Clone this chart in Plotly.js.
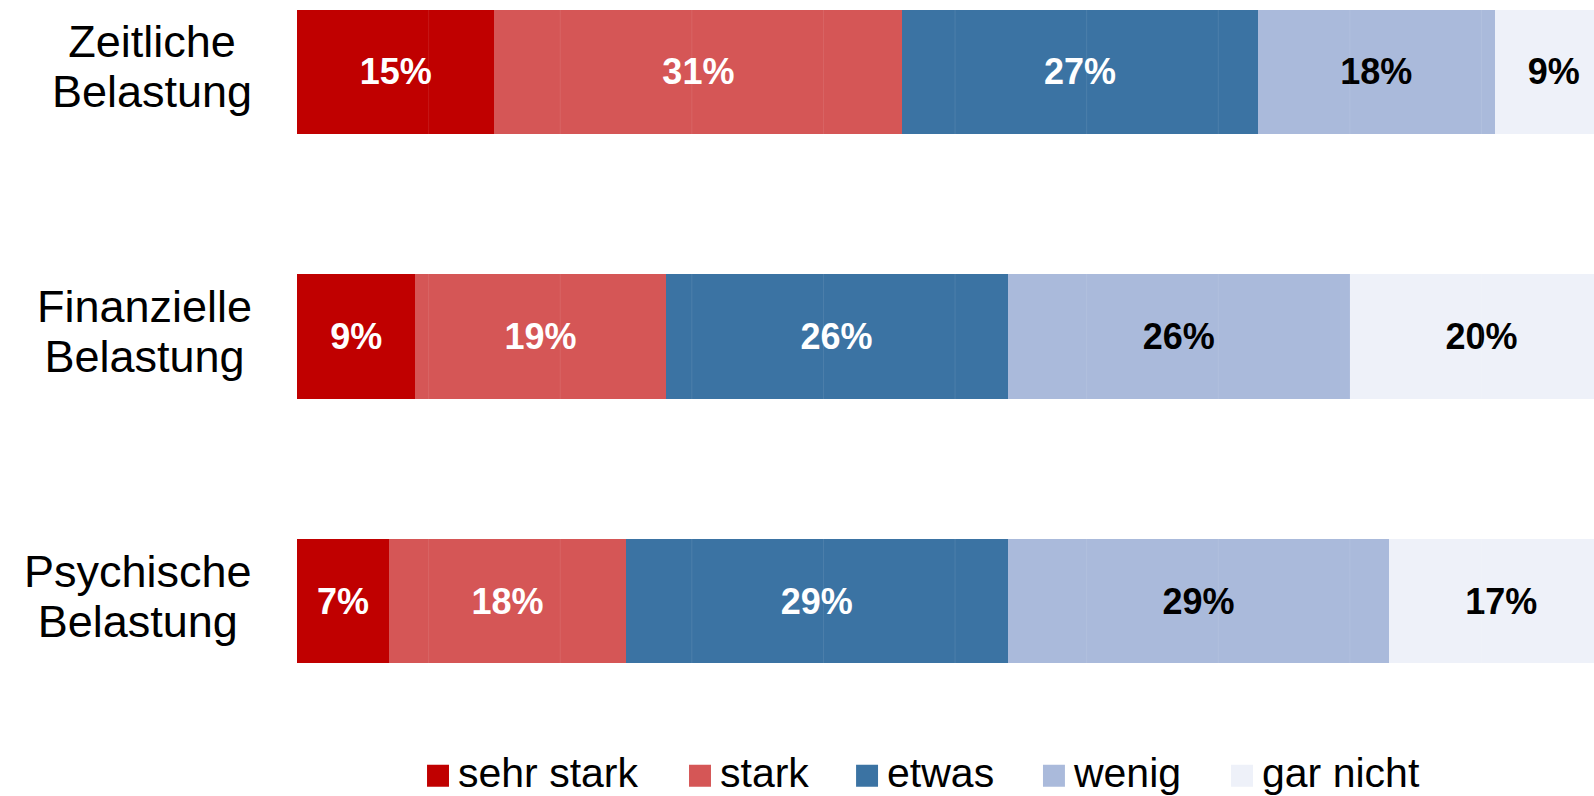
<!DOCTYPE html>
<html>
<head>
<meta charset="utf-8">
<script src="https://cdn.plot.ly/plotly-3.0.1.min.js"></script>
<style>
  html, body { margin: 0; padding: 0; background: #ffffff; }
  #chart { width: 1594px; height: 796px; }
</style>
</head>
<body>
<div id="chart"></div>
<script>
// ---- data ----
var categories = ['Zeitliche Belastung', 'Finanzielle Belastung', 'Psychische Belastung'];
var seriesNames = ['sehr stark', 'stark', 'etwas', 'wenig', 'gar nicht'];
var sehrStark = [15, 9, 7];
var stark     = [31, 19, 18];
var etwas     = [27, 26, 29];
var wenig     = [18, 26, 29];
var garNicht  = [9, 20, 17];
var gridTicks = [10, 20, 30, 40, 50, 60, 70, 80, 90];

// ---- styles ----
var seriesValues = [sehrStark, stark, etwas, wenig, garNicht];
var seriesColors = ['#C00000', '#D55656', '#3B73A3', '#AABADB', '#EEF1F9'];
var textColors = ['#ffffff', '#ffffff', '#ffffff', '#000000', '#000000'];
var legendIds = ['legend', 'legend2', 'legend3', 'legend4', 'legend5'];
var legendX = [0.0933, 0.2953, 0.4241, 0.5682, 0.7132];
var FONT = 'Liberation Sans, Arial, Helvetica, sans-serif';

var traces = seriesNames.map(function (name, i) {
  return {
    type: 'bar',
    orientation: 'h',
    name: name,
    legend: legendIds[i],
    x: seriesValues[i],
    y: categories,
    marker: { color: seriesColors[i], line: { width: 0 } },
    texttemplate: '%{x}%',
    textposition: 'inside',
    insidetextanchor: 'middle',
    textangle: 0,
    constraintext: 'none',
    insidetextfont: { family: FONT, size: 36, color: textColors[i], weight: 'bold' },
    hoverinfo: 'skip'
  };
});

var annotations = categories.map(function (c) {
  var lines = c.split(' ').map(function (w) {
    return '<span style="font-size:45px">' + w + '</span>';
  });
  return {
    xref: 'paper', yref: 'y',
    x: 0, y: c,
    xanchor: 'right', yanchor: 'middle',
    xshift: -43, yshift: 5,
    align: 'center',
    showarrow: false,
    text: lines.join('<br>'),
    font: { family: FONT, size: 38.5, color: '#000000' }
  };
});

var shapes = gridTicks.map(function (t) {
  return {
    type: 'line', layer: 'above',
    xref: 'x', yref: 'paper',
    x0: t, x1: t, y0: 0, y1: 1,
    line: { color: 'rgba(255,255,255,0.09)', width: 1 }
  };
});

var layout = {
  width: 1594,
  height: 796,
  margin: { l: 297, r: 0, t: 0, b: 96, autoexpand: false },
  paper_bgcolor: '#ffffff',
  plot_bgcolor: '#ffffff',
  barmode: 'stack',
  bargap: 0.531,
  showlegend: true,
  xaxis: {
    range: [0, 98.55],
    showgrid: false, zeroline: false, showline: false,
    showticklabels: false, ticks: '', fixedrange: true
  },
  yaxis: {
    type: 'category',
    categoryarray: categories,
    range: [2.374, -0.272],
    showgrid: false, zeroline: false, showline: false,
    showticklabels: false, ticks: '', fixedrange: true
  },
  annotations: annotations,
  shapes: shapes
};

legendIds.forEach(function (id, i) {
  layout[id] = {
    orientation: 'h',
    x: legendX[i], xanchor: 'left',
    y: -0.1015, yanchor: 'middle',
    font: { family: FONT, size: 41, color: '#000000' },
    bgcolor: 'rgba(0,0,0,0)',
    borderwidth: 0,
    itemclick: false, itemdoubleclick: false
  };
});

Plotly.newPlot('chart', traces, layout, { displayModeBar: false, staticPlot: true }).then(function () {
  document.querySelectorAll('#chart .legendpoints path').forEach(function (p) {
    var t = p.getAttribute('transform') || '';
    p.setAttribute('transform', t + ' translate(0,5) scale(1.83)');
  });
});
</script>
</body>
</html>
